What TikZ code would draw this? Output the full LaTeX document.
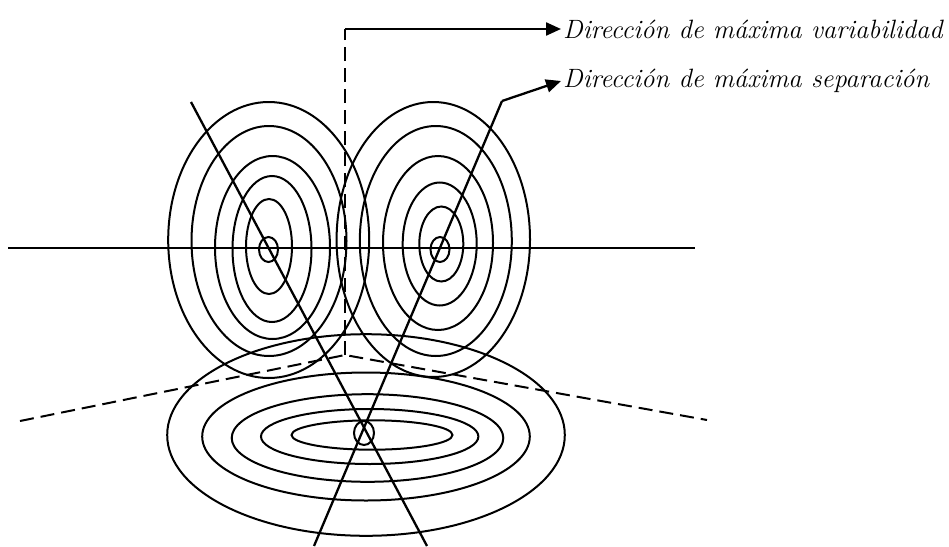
\documentclass[tikz,border=0pt]{standalone}
\usepackage{tikz}
\usetikzlibrary{arrows.meta}

\tikzset{
  curva/.style={line width=2pt},
  eje/.style={line width=2.3pt},
  guia/.style={line width=2pt, dash pattern=on 14pt off 7pt},
  flecha/.style={line width=2.3pt, -{Triangle[length=15pt,width=13pt]}},
  etiqueta/.style={anchor=west, inner sep=2pt, font=\fontsize{26.5}{30}\selectfont\itshape}
}

\begin{document}
\begin{tikzpicture}[x=1pt,y=-1pt]
\useasboundingbox (0,0) rectangle (949,546);

% centros de los grupos
\coordinate (cI) at (268,248);
\coordinate (cD) at (440,248);
\coordinate (cB) at (366,435);

% contornos de los dos grupos
\foreach \dx/\dy/\rx/\ry in {0.5/1.5/9.5/12.5, 1/-1.5/23/47.5, 4/1/39.5/73, 4.5/-0.5/57.5/91.5, 1/-7/77.5/115, 0.7/-8/100.5/138}
  \draw[curva] ([shift={(\dx,\dy)}]cI) ellipse [x radius=\rx pt, y radius=\ry pt];
\foreach \dx/\dy/\rx/\ry in {0/1.5/9.5/12.5, 1.3/-4/22/37.5, -0.3/-4/37/61.5, -2/-5/55/87, -4.2/-7/76/115, -6.7/-8.5/96.7/137.5}
  \draw[curva] ([shift={(\dx,\dy)}]cD) ellipse [x radius=\rx pt, y radius=\ry pt];

% contornos de la proyeccion
\foreach \dx/\dy/\rx/\ry in {-2/-2/10/12, 6/0/80.5/14.7, 3.7/1.5/108.7/27.5, 1.5/3/135.8/43.8, 0/1.5/163.8/64, 0/0/198.8/100.8}
  \draw[curva] ([shift={(\dx,\dy)}]cB) ellipse [x radius=\rx pt, y radius=\ry pt];

% ejes
\coordinate (ejeA) at (8,248);
\coordinate (ejeB) at (695,248);
\draw[eje] (ejeA) -- (ejeB);

\coordinate (sI) at (191,102);
\coordinate (sF) at (427,546);
\draw[eje] (sI) -- (sF);

\coordinate (quiebre) at (502,101);
\coordinate (qF) at (314,546);
\draw[eje] (quiebre) -- (qF);

% direccion de maxima variabilidad (discontinua)
\coordinate (esq) at (345,355);
\coordinate (arriba) at (345,29);
\coordinate (dI) at (20,421);
\coordinate (dD) at (707,420);
\draw[guia] (dI) -- (esq) -- (dD);
\draw[guia] (esq) -- (arriba);

% etiquetas
\node[etiqueta] (var) at (561,29) {Dirección de máxima variabilidad};
\node[etiqueta] (sep) at (561,81) {Dirección de máxima separación};

\draw[flecha] (arriba) -- (var.west);
\draw[flecha] (quiebre) -- (sep.west);
\end{tikzpicture}
\end{document}
